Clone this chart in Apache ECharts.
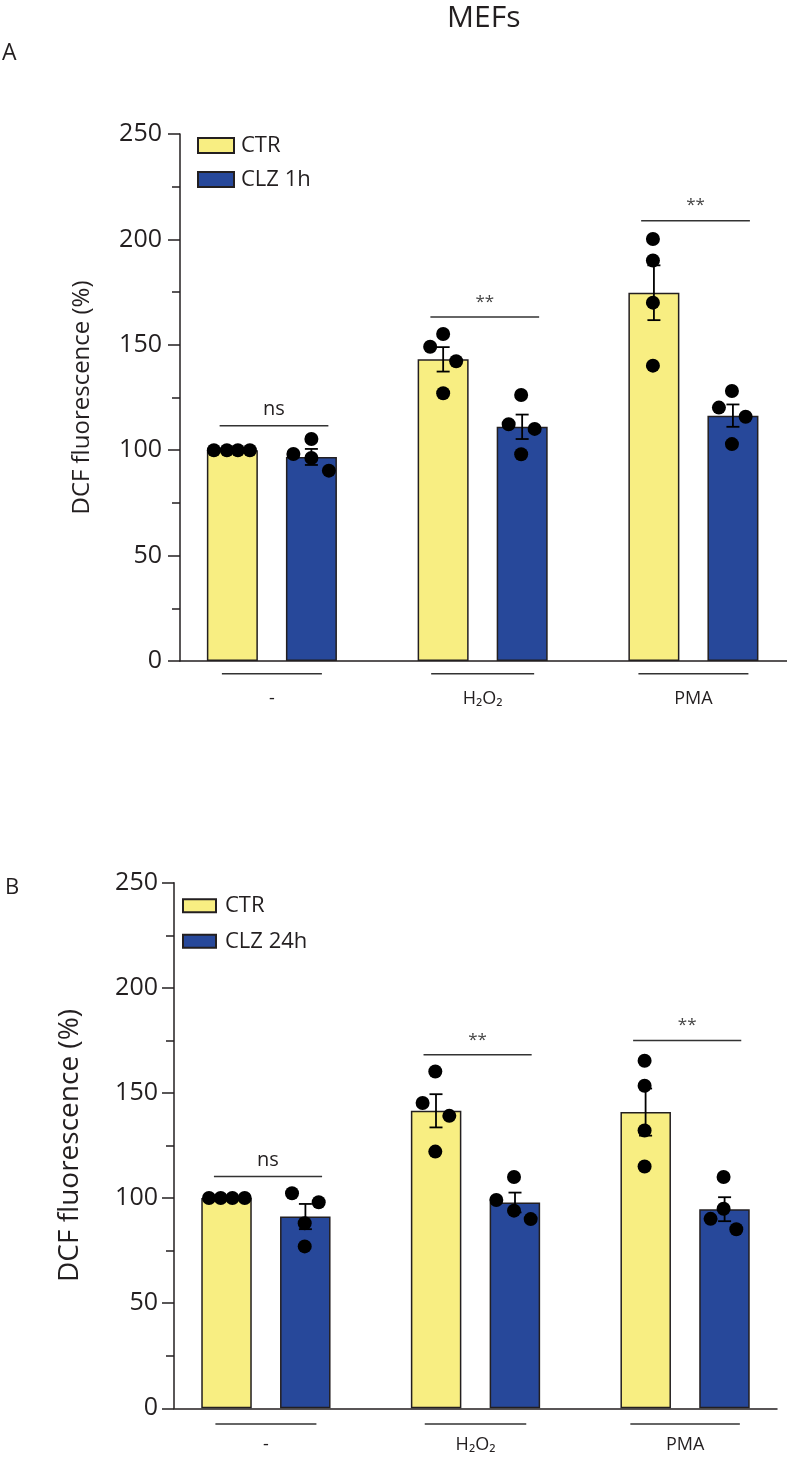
<!DOCTYPE html>
<html><head><meta charset="utf-8">
<script src="https://cdn.jsdelivr.net/npm/echarts@6/dist/echarts.min.js"></script>
<style>html,body{margin:0;padding:0;background:#fff}#c{width:787px;height:1459px}</style>
</head><body><div id="c"></div>
<script>
// ---------- data ----------
const categories = ['-', 'H₂O₂', 'PMA'];
const yMax = 250;
const yInterval = 50;

// Panel A (CLZ 1h)
const aNames = ['CTR', 'CLZ 1h'];
const aCtrMean = [100, 143.1, 174.7];
const aCtrSem  = [0, 5.8, 13.0];
const aClzMean = [96.8, 111.1, 116.4];
const aClzSem  = [3.8, 5.8, 5.3];
const aCtrPoints = [[100, 100, 100, 100], [155.1, 149.1, 142.2, 127.0], [200.2, 190.0, 170.0, 140.1]];
const aClzPoints = [[105.3, 98.2, 96.3, 90.3], [126.2, 112.3, 110.1, 98.1], [128.1, 120.2, 115.9, 102.9]];
const aCtrJitter = [[-18.5, -5.5, 5.5, 17.5], [0, -13, 13, 0], [-1, -1, -1, -1]];
const aClzJitter = [[0, -18, 0, 17.5], [-1, -13.5, 12.5, -1], [-1, -14, 12.7, -1]];
const aSigY = [111.6, 163.2, 208.9];
const aSigLabel = ['ns', '**', '**'];

// Panel B (CLZ 24h)
const bNames = ['CTR', 'CLZ 24h'];
const bCtrMean = [100, 141.5, 140.9];
const bCtrSem  = [0, 7.9, 11.2];
const bClzMean = [91.2, 97.9, 94.7];
const bClzSem  = [6.0, 4.7, 5.7];
const bCtrPoints = [[100, 100, 100, 100], [160.2, 145.2, 139.1, 122.1], [165.3, 153.4, 132.1, 115.0]];
const bClzPoints = [[102.3, 98.0, 88.0, 77.0], [110.0, 99.1, 94.0, 90.0], [110.0, 94.9, 90.1, 85.2]];
const bCtrJitter = [[-17.4, -5.7, 6, 18.3], [-0.7, -13.4, 13.3, -0.7], [-1, -1, -1, -1]];
const bClzJitter = [[-13.4, 13.3, -0.7, -0.7], [-1, -18.7, -1, 15.7], [-1, -1, -14, 11.7]];
const bSigY = [110.2, 168.2, 175.0];
const bSigLabel = ['ns', '**', '**'];

// ---------- styles ----------
const FONT = '"Open Sans", "Noto Sans", "DejaVu Sans", sans-serif';
const INK = '#231f20';
const YEL = '#f8ee82';
const BLU = '#27489a';

function barData(means) { return means.map((m, i) => [i, m]); }
function errData(means, sems, side) { return means.map((m, i) => [i, side, m, sems[i]]); }
function dotData(points, jit, side) {
  const out = [];
  points.forEach((arr, g) => arr.forEach((v, k) => out.push([g, side, v, jit[g][k]])));
  return out;
}
function sigData(ys) { return ys.map((y, i) => [i, y]); }

function errRender(off) {
  return function (params, api) {
    const g = api.value(0), side = api.value(1), m = api.value(2), s = api.value(3);
    if (!s) return null;
    const x = api.coord([g, m])[0] + side * off;
    const top = api.coord([g, m + s])[1], bot = api.coord([g, m - s])[1];
    const cap = 6.5, st = { stroke: '#000', lineWidth: 1.8 };
    return { type: 'group', children: [
      { type: 'line', shape: { x1: x, y1: top, x2: x, y2: bot }, style: st },
      { type: 'line', shape: { x1: x - cap, y1: top, x2: x + cap, y2: top }, style: st },
      { type: 'line', shape: { x1: x - cap, y1: bot, x2: x + cap, y2: bot }, style: st }
    ] };
  };
}
function dotRender(off) {
  return function (params, api) {
    const g = api.value(0), side = api.value(1), v = api.value(2), j = api.value(3);
    const p = api.coord([g, v]);
    return { type: 'circle', shape: { cx: p[0] + side * off + j, cy: p[1], r: 7 }, style: { fill: '#000' } };
  };
}
function makeSigRender(labels) {
  return function (params, api) {
    const g = api.value(0), y = api.value(1);
    const lab = labels[params.dataIndex];
    const p1 = api.coord([g + 0.01 - 0.258, y]);
    const p2 = api.coord([g + 0.01 + 0.258, y]);
    const star = lab !== 'ns';
    return { type: 'group', children: [
      { type: 'line', shape: { x1: p1[0], y1: p1[1], x2: p2[0], y2: p2[1] }, style: { stroke: '#333', lineWidth: 1.5 } },
      { type: 'text', style: { x: (p1[0] + p2[0]) / 2, y: p1[1] - (star ? 15 : 16), text: lab,
        fill: star ? '#444' : INK, font: (star ? '17px ' : '20px ') + FONT, align: 'center', verticalAlign: 'middle' } }
    ] };
  };
}

function xAxisFor(gridIndex, min, max, widths, margin, pad) {
  const rich = {
    t: { fontSize: 18, fontFamily: FONT, color: INK, lineHeight: 18, padding: [pad, 0, 0, 0] }
  };
  widths.forEach((w, i) => { rich['u' + i] = { width: w, height: 1.5, lineHeight: 1.5, backgroundColor: '#333' }; });
  return {
    type: 'value', gridIndex, min, max,
    splitLine: { show: false }, axisTick: { show: false },
    axisLine: { show: true, onZero: false, lineStyle: { color: INK, width: 1.5 } },
    axisLabel: {
      customValues: [0, 1, 2], margin, align: 'center',
      formatter: function (v) { const i = Math.round(v); return '{u' + i + '| }\n{t|' + categories[i] + '}'; },
      rich
    }
  };
}
function yAxisFor(gridIndex, nameGap, nameSize, margin) {
  return {
    type: 'value', gridIndex, min: 0, max: yMax, interval: yInterval,
    name: 'DCF fluorescence (%)', nameLocation: 'middle', nameGap,
    nameTextStyle: { fontSize: nameSize, fontFamily: FONT, color: INK },
    axisLine: { show: true, onZero: false, lineStyle: { color: INK, width: 1.5 } },
    axisTick: { show: true, length: 12, lineStyle: { color: INK, width: 1.5 } },
    minorTick: { show: true, splitNumber: 2, length: 8, lineStyle: { color: INK, width: 1.5 } },
    splitLine: { show: false }, minorSplitLine: { show: false },
    axisLabel: { fontSize: 25, fontFamily: FONT, color: INK, margin }
  };
}
function barSeries(name, idx, means, color, width, gap) {
  return { type: 'bar', name, xAxisIndex: idx, yAxisIndex: idx, data: barData(means),
    barWidth: width, barGap: gap, z: 2,
    itemStyle: { color, borderColor: INK, borderWidth: 1.5 } };
}

const OFF = 39.5;
const chart = echarts.init(document.getElementById('c'), null, { renderer: 'canvas' });
chart.setOption({
  animation: false,
  backgroundColor: '#fff',
  textStyle: { fontFamily: FONT },
  title: [
    { text: 'MEFs', left: 447, top: 3, padding: 0, textStyle: { fontSize: 30, fontWeight: 'normal', fontFamily: FONT, color: INK } },
    { text: 'A', left: 2, top: 42, padding: 0, textStyle: { fontSize: 23, fontWeight: 'normal', fontFamily: FONT, color: INK } },
    { text: 'B', left: 5, top: 877, padding: 0, textStyle: { fontSize: 22, fontWeight: 'normal', fontFamily: FONT, color: INK } }
  ],
  legend: [
    { data: aNames, orient: 'vertical', left: 197, top: 134.5, padding: 0, icon: 'rect',
      itemWidth: 36, itemHeight: 15, itemGap: 12,
      textStyle: { fontSize: 22, fontFamily: FONT, color: INK, padding: [0, 0, 0, 2] } },
    { data: bNames, orient: 'vertical', left: 182, top: 894.7, padding: 0, icon: 'rect',
      itemWidth: 33, itemHeight: 13, itemGap: 13.6,
      textStyle: { fontSize: 22, fontFamily: FONT, color: INK, padding: [0, 0, 0, 4] } }
  ],
  grid: [
    { left: 180, width: 607, top: 134, height: 527 },
    { left: 174, width: 603, top: 882.7, height: 525.6 }
  ],
  xAxis: [
    xAxisFor(0, -0.436, 2.444, [100, 103, 110], 12, 30),
    xAxisFor(1, -0.4385, 2.4385, [101, 101.5, 109.5], 15, 23)
  ],
  yAxis: [
    yAxisFor(0, 86, 24, 18),
    yAxisFor(1, 90, 28, 16)
  ],
  series: [
    barSeries(aNames[0], 0, aCtrMean, YEL, 51, '55%'),
    barSeries(aNames[1], 0, aClzMean, BLU, 51, '55%'),
    { type: 'custom', xAxisIndex: 0, yAxisIndex: 0, z: 3, renderItem: errRender(OFF),
      data: errData(aCtrMean, aCtrSem, -1).concat(errData(aClzMean, aClzSem, 1)) },
    { type: 'custom', xAxisIndex: 0, yAxisIndex: 0, z: 4, renderItem: dotRender(OFF),
      data: dotData(aCtrPoints, aCtrJitter, -1).concat(dotData(aClzPoints, aClzJitter, 1)) },
    { type: 'custom', xAxisIndex: 0, yAxisIndex: 0, z: 4, renderItem: makeSigRender(aSigLabel),
      data: sigData(aSigY) },

    barSeries(bNames[0], 1, bCtrMean, YEL, 50.5, '56%'),
    barSeries(bNames[1], 1, bClzMean, BLU, 50.5, '56%'),
    { type: 'custom', xAxisIndex: 1, yAxisIndex: 1, z: 3, renderItem: errRender(OFF),
      data: errData(bCtrMean, bCtrSem, -1).concat(errData(bClzMean, bClzSem, 1)) },
    { type: 'custom', xAxisIndex: 1, yAxisIndex: 1, z: 4, renderItem: dotRender(OFF),
      data: dotData(bCtrPoints, bCtrJitter, -1).concat(dotData(bClzPoints, bClzJitter, 1)) },
    { type: 'custom', xAxisIndex: 1, yAxisIndex: 1, z: 4, renderItem: makeSigRender(bSigLabel),
      data: sigData(bSigY) }
  ]
});
</script></body></html>
